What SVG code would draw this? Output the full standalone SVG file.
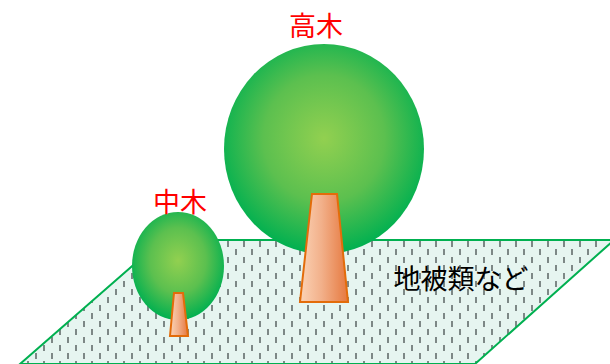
<svg xmlns="http://www.w3.org/2000/svg" width="610" height="364" viewBox="0 0 610 364">
  <style>
    .lbl { font-family: "Noto Sans CJK JP", "Noto Sans", sans-serif; font-size: 27px; text-anchor: middle; }
    .red { fill: #ff0000; }
    .blk { fill: #000000; }
    .trunk { stroke: #e36c0a; stroke-width: 2; stroke-linejoin: miter; }
  </style>
  <defs>
    <pattern id="dash" width="16" height="16" patternUnits="userSpaceOnUse">
      <rect width="16" height="16" fill="#e6f5f0"/>
      <rect x="3" y="1" width="2" height="6" fill="#7d8886"/>
      <rect x="11" y="9" width="2" height="6" fill="#7d8886"/>
    </pattern>
    <radialGradient id="crown" cx="50%" cy="45%" r="55%">
      <stop offset="0" stop-color="#92d050"/>
      <stop offset="0.55" stop-color="#5cc04f"/>
      <stop offset="1" stop-color="#00b050"/>
    </radialGradient>
    <linearGradient id="bark" x1="0" y1="0" x2="1" y2="0">
      <stop offset="0" stop-color="#fbd3b6"/>
      <stop offset="0.45" stop-color="#f2b08a"/>
      <stop offset="1" stop-color="#e6783e"/>
    </linearGradient>
  </defs>

  <!-- ground layer -->
  <g id="ground">
    <polygon points="162,240 614,240 475,364 20,364" fill="url(#dash)" stroke="#00b050" stroke-width="2"/>
    <text class="lbl blk" x="461" y="289">地被類など</text>
  </g>

  <!-- tall tree -->
  <g id="tall-tree">
    <ellipse cx="324" cy="149" rx="100" ry="105" fill="url(#crown)"/>
    <polygon class="trunk" points="312,194 337,194 348,302 300,302" fill="url(#bark)"/>
    <text class="lbl red" x="316" y="36">高木</text>
  </g>

  <!-- medium tree -->
  <g id="mid-tree">
    <ellipse cx="178" cy="266" rx="46" ry="54" fill="url(#crown)"/>
    <polygon class="trunk" points="174,293 183,293 188,336 170,336" fill="url(#bark)"/>
    <text class="lbl red" x="180" y="212">中木</text>
  </g>

  <g id="connectors"/>
</svg>
